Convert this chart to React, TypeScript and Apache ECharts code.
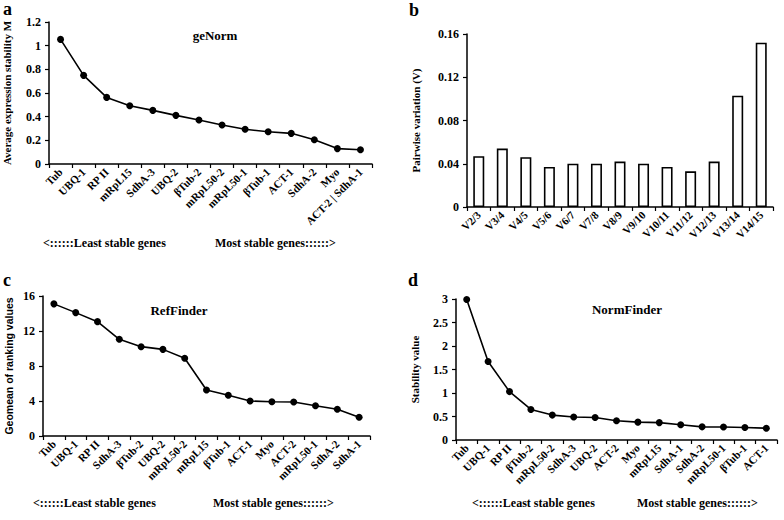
import React, { useEffect, useRef } from "react";
import * as echarts from "echarts";

const genesA = ["Tub", "UBQ-1", "RP II", "mRpL15", "SdhA-3", "UBQ-2", "βTub-2", "mRpL50-2", "mRpL50-1", "βTub-1", "ACT-1", "SdhA-2", "Myo", "ACT-2 | SdhA-1"];
const valuesA = [1.053, 0.749, 0.563, 0.493, 0.453, 0.411, 0.372, 0.33, 0.293, 0.273, 0.259, 0.205, 0.13, 0.12];

const pairsB = ["V2/3", "V3/4", "V4/5", "V5/6", "V6/7", "V7/8", "V8/9", "V9/10", "V10/11", "V11/12", "V12/13", "V13/14", "V14/15"];
const valuesB = [0.047, 0.054, 0.046, 0.037, 0.04, 0.04, 0.042, 0.04, 0.037, 0.033, 0.042, 0.103, 0.152];

const genesC = ["Tub", "UBQ-1", "RP II", "SdhA-3", "βTub-2", "UBQ-2", "mRpL50-2", "mRpL15", "βTub-1", "ACT-1", "Myo", "ACT-2", "mRpL50-1", "SdhA-2", "SdhA-1"];
const valuesC = [15.1, 14.1, 13.07, 11.05, 10.21, 9.9, 8.88, 5.26, 4.65, 4.0, 3.92, 3.89, 3.46, 3.05, 2.14];

const genesD = ["Tub", "UBQ-1", "RP II", "βTub-2", "mRpL50-2", "SdhA-3", "UBQ-2", "ACT-2", "Myo", "mRpL15", "SdhA-1", "SdhA-2", "mRpL50-1", "βTub-1", "ACT-1"];
const valuesD = [2.99, 1.67, 1.03, 0.65, 0.53, 0.49, 0.48, 0.41, 0.38, 0.37, 0.325, 0.28, 0.275, 0.265, 0.25];

const SERIF = "'Liberation Serif', 'Times New Roman', serif";
const SANS = "'Liberation Sans', Arial, sans-serif";

const axisLine = { show: true, lineStyle: { color: "#000", width: 1.5 } };

function xAxis(gridIndex: number, data: string[]) {
  return {
    type: "category",
    gridIndex,
    data,
    axisLine,
    axisTick: { show: true, length: 4, lineStyle: { color: "#000", width: 1.2 } },
    axisLabel: {
      rotate: 45,
      interval: 0,
      margin: 6,
      color: "#000",
      fontFamily: SERIF,
      fontWeight: "bold",
      fontSize: 11,
    },
    splitLine: { show: false },
  };
}

function yAxis(gridIndex: number, max: number, interval: number, name: string, nameGap: number, nameFont = SERIF, nameSize = 11) {
  return {
    type: "value",
    gridIndex,
    min: 0,
    max,
    interval,
    name,
    nameLocation: "middle",
    nameRotate: 90,
    nameGap,
    nameTextStyle: { color: "#000", fontFamily: nameFont, fontWeight: "bold", fontSize: nameSize },
    axisLine,
    axisTick: { show: true, length: 4, lineStyle: { color: "#000", width: 1.2 } },
    axisLabel: { color: "#000", fontFamily: SERIF, fontWeight: "bold", fontSize: 12, margin: 8 },
    splitLine: { show: false },
  };
}

function lineSeries(idx: number, data: number[]) {
  return {
    type: "line",
    xAxisIndex: idx,
    yAxisIndex: idx,
    data,
    symbol: "circle",
    symbolSize: 7,
    lineStyle: { color: "#000", width: 1.6 },
    itemStyle: { color: "#000" },
  };
}

function txt(x: number, y: number, text: string, size: number, align = "left", family = SERIF) {
  return {
    type: "text",
    x,
    y,
    style: { text, fill: "#000", font: `bold ${size}px ${family}`, textAlign: align, textVerticalAlign: "middle" },
  };
}

export default function App() {
  const ref = useRef<HTMLDivElement>(null);
  useEffect(() => {
    if (!ref.current) return;
    const chart = echarts.init(ref.current, null, { renderer: "svg" });
    chart.setOption({
      animation: false,
      backgroundColor: "#fff",
      grid: [
        { left: 49, top: 22, width: 323, height: 142 },
        { left: 467, top: 34, width: 306, height: 173 },
        { left: 43, top: 296, width: 327, height: 140 },
        { left: 456, top: 299, width: 321, height: 141 },
      ],
      xAxis: [xAxis(0, genesA), xAxis(1, pairsB), xAxis(2, genesC), xAxis(3, genesD)],
      yAxis: [
        yAxis(0, 1.2, 0.2, "Average expression stability M", 37),
        yAxis(1, 0.16, 0.04, "Pairwise variation (V)", 46),
        yAxis(2, 16, 4, "Geomean of ranking values", 29, SANS, 10.5),
        yAxis(3, 3, 0.5, "Stability value", 36),
      ],
      series: [
        lineSeries(0, valuesA),
        {
          type: "bar",
          xAxisIndex: 1,
          yAxisIndex: 1,
          data: valuesB,
          barWidth: 11,
          itemStyle: { color: "#fff", borderColor: "#000", borderWidth: 1.6 },
        },
        lineSeries(2, valuesC),
        lineSeries(3, valuesD),
      ],
      graphic: [
        txt(3, 9, "a", 18),
        txt(409, 10, "b", 18),
        txt(3, 280, "c", 18),
        txt(408, 280, "d", 18),
        txt(215, 35, "geNorm", 13, "center"),
        txt(179, 310, "RefFinder", 13, "center"),
        txt(627, 309, "NormFinder", 13, "center"),
        txt(43, 243, "<::::::Least stable genes", 12),
        txt(215, 243, "Most stable genes::::::>", 12),
        txt(33, 503, "<::::::Least stable genes", 12),
        txt(213, 503, "Most stable genes::::::>", 12),
        txt(472, 503, "<::::::Least stable genes", 12),
        txt(637, 503, "Most stable genes::::::>", 12),
      ],
    });
    return () => chart.dispose();
  }, []);
  return (
    <div
      ref={ref}
      style={{ position: "fixed", left: 0, top: 0, width: 784, height: 520, background: "#fff" }}
    />
  );
}
